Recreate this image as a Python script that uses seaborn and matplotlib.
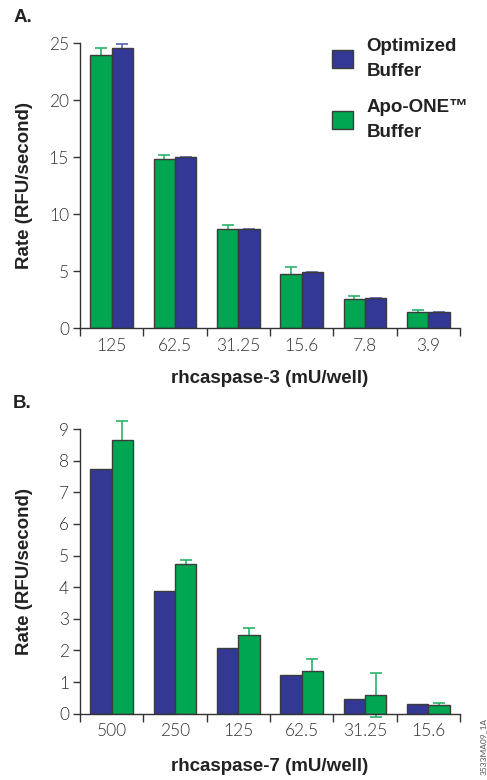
import matplotlib.pyplot as plt
import numpy as np
import pandas as pd
import seaborn as sns
from matplotlib.patches import Patch

# panel A: rhcaspase-3
doses_a = ["125", "62.5", "31.25", "15.6", "7.8", "3.9"]
apo_a = [24.0, 14.85, 8.68, 4.78, 2.57, 1.43]
apo_err_a = [0.6, 0.35, 0.42, 0.6, 0.3, 0.15]
opt_a = [24.6, 15.0, 8.7, 4.9, 2.63, 1.4]
opt_err_a = [0.3, 0.05, 0.05, 0.05, 0.05, 0.05]

# panel B: rhcaspase-7
doses_b = ["500", "250", "125", "62.5", "31.25", "15.6"]
opt_b = [7.74, 3.89, 2.08, 1.22, 0.46, 0.31]
apo_b = [8.65, 4.74, 2.49, 1.36, 0.60, 0.27]
apo_err_b = [0.6, 0.12, 0.22, 0.38, 0.70, 0.06]

OPT = "Optimized Buffer"
APO = "Apo-ONE™ Buffer"
BLUE = "#333894"
GREEN = "#00a651"
EDGE = "#3c3c3c"
TXT = "#333333"
BOLD = ["Liberation Sans", "DejaVu Sans"]
LIGHT = ["Lato", "Liberation Sans", "DejaVu Sans"]
BOLD_SIZE = 13.5


def make_df(doses, series):
    rows = []
    for name, vals in series.items():
        for d, v in zip(doses, vals):
            rows.append({"dose": d, "rate": v, "buffer": name})
    return pd.DataFrame(rows)


def draw_panel(ax, doses, series, errors, hue_order, ymax, ystep, xlabel, xlabel_y):
    df = make_df(doses, series)
    sns.barplot(
        data=df, x="dose", y="rate", hue="buffer", order=doses,
        hue_order=hue_order, palette={OPT: BLUE, APO: GREEN},
        width=0.67, saturation=1, edgecolor=EDGE, linewidth=1.0,
        legend=False, ax=ax,
    )
    err_colors = {OPT: "#5a62b8", APO: "#29b36a"}
    for name, container in zip(hue_order, ax.containers):
        if name not in errors:
            continue
        xs = [b.get_x() + b.get_width() / 2 for b in container]
        hs = [b.get_height() for b in container]
        eb = ax.errorbar(xs, hs, yerr=errors[name], fmt="none",
                         ecolor=err_colors[name], elinewidth=1.2,
                         capsize=4, capthick=1.2, zorder=0.5)
        for art in eb.get_children():
            art.set_clip_on(False)

    ax.set_xlim(-0.5, len(doses) - 0.5)
    ax.set_ylim(0, ymax)
    ax.set_yticks(np.arange(0, ymax + 0.01, ystep))
    ax.set_xticks(np.arange(-0.5, len(doses), 1.0), minor=True)
    ax.tick_params(axis="x", which="major", length=0, pad=7)
    ax.tick_params(axis="x", which="minor", length=6, width=1, color=TXT)
    ax.tick_params(axis="y", length=5, width=1, color=TXT, pad=3)
    for lab in ax.get_xticklabels() + ax.get_yticklabels():
        lab.set_family(LIGHT)
        lab.set_fontweight(300)
        lab.set_fontsize(12.5)
        lab.set_color(TXT)
    sns.despine(ax=ax)
    for s in ("left", "bottom"):
        ax.spines[s].set_color(TXT)
        ax.spines[s].set_linewidth(1)

    ax.set_ylabel("Rate (RFU/second)", family=BOLD, fontweight="bold",
                  fontsize=BOLD_SIZE, color="#222222")
    ax.yaxis.set_label_coords(-0.125, 0.5)
    ax.set_xlabel(xlabel, family=BOLD, fontweight="bold", fontsize=BOLD_SIZE,
                  color="#222222")
    ax.xaxis.set_label_coords(0.5, xlabel_y)


def main() -> None:
    sns.set_style("ticks")
    plt.rcParams["font.family"] = BOLD

    fig = plt.figure(figsize=(4.87, 7.8), dpi=100)
    ax_a = fig.add_axes([0.1643, 0.5791, 0.7803, 0.3654])
    ax_b = fig.add_axes([0.1643, 0.0850, 0.7803, 0.3650])

    draw_panel(ax_a, doses_a, {APO: apo_a, OPT: opt_a},
               {APO: apo_err_a, OPT: opt_err_a}, [APO, OPT], 25, 5,
               "rhcaspase-3 (mU/well)", -0.147)
    draw_panel(ax_b, doses_b, {OPT: opt_b, APO: apo_b},
               {APO: apo_err_b}, [OPT, APO], 9, 1,
               "rhcaspase-7 (mU/well)", -0.155)

    handles = [Patch(facecolor=BLUE, edgecolor=EDGE, linewidth=1),
               Patch(facecolor=GREEN, edgecolor=EDGE, linewidth=1)]
    leg = ax_a.legend(handles, ["Optimized\nBuffer", "Apo-ONE™\nBuffer"],
                      loc="upper left", bbox_to_anchor=(0.663, 1.02), frameon=False,
                      borderaxespad=0, borderpad=0,
                      handlelength=1.1, handleheight=1.1, handletextpad=0.75,
                      labelspacing=1.0,
                      prop={"family": BOLD, "weight": "bold", "size": BOLD_SIZE},
                      labelcolor="#222222")
    for t in leg.get_texts():
        t.set_linespacing(1.65)

    fig.text(0.027, 0.978, "A.", family=BOLD, fontweight="bold", fontsize=BOLD_SIZE,
             color="#222222", va="center", ha="left")
    fig.text(0.027, 0.483, "B.", family=BOLD, fontweight="bold", fontsize=BOLD_SIZE,
             color="#222222", va="center", ha="left")
    fig.text(0.992, 0.08, "3533MA09_1A", rotation=90, fontsize=6,
             family=LIGHT, color="#555555", ha="center", va="top")

    fig.savefig("out.png", dpi=100)
    plt.close(fig)


if __name__ == "__main__":
    main()
